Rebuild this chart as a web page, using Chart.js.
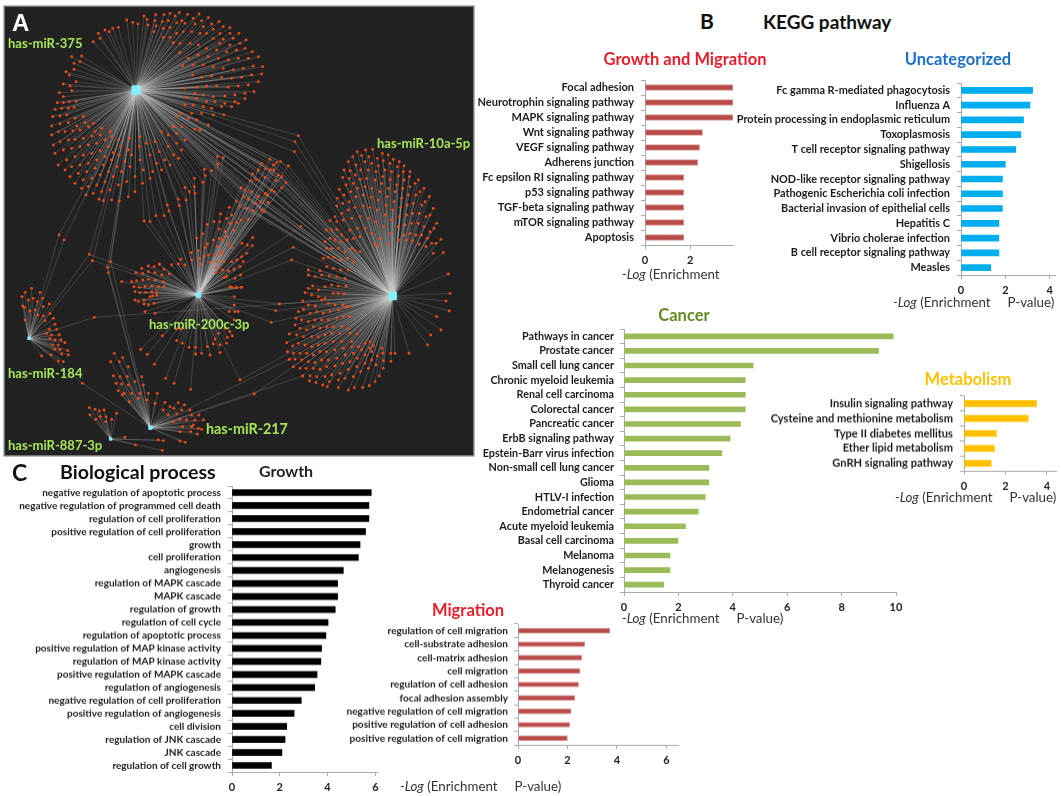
<!DOCTYPE html>
<html><head><meta charset="utf-8">
<script src="https://cdn.jsdelivr.net/npm/chart.js@4"></script>
<style>
html,body{margin:0;padding:0;background:#fff;width:1061px;height:796px;overflow:hidden}
canvas{position:absolute}
.t{position:absolute;white-space:pre;font-family:Lato,"Noto Sans",sans-serif;line-height:1;transform:translateY(-50%)}
.h{font-weight:700}
.c{transform:translate(-50%,-50%)}
.g{color:#a6e55a;font-weight:700;font-size:13px}
.x{font-size:13.3px;color:#333}
.x i{font-style:italic}
</style></head><body>
<script>
/* ---------- bar data ---------- */
const growthMigLabels=["Focal adhesion","Neurotrophin signaling pathway","MAPK signaling pathway","Wnt signaling pathway","VEGF signaling pathway","Adherens junction","Fc epsilon RI signaling pathway","p53 signaling pathway","TGF-beta signaling pathway","mTOR signaling pathway","Apoptosis"];
const growthMigValues=[3.9,3.9,3.9,2.55,2.42,2.34,1.72,1.72,1.72,1.72,1.72];
const uncatLabels=["Fc gamma R-mediated phagocytosis","Influenza A","Protein processing in endoplasmic reticulum","Toxoplasmosis","T cell receptor signaling pathway","Shigellosis","NOD-like receptor signaling pathway","Pathogenic Escherichia coli infection","Bacterial invasion of epithelial cells","Hepatitis C","Vibrio cholerae infection","B cell receptor signaling pathway","Measles"];
const uncatValues=[3.23,3.11,2.82,2.7,2.47,2.0,1.87,1.87,1.87,1.71,1.71,1.71,1.34];
const cancerLabels=["Pathways in cancer","Prostate cancer","Small cell lung cancer","Chronic myeloid leukemia","Renal cell carcinoma","Colorectal cancer","Pancreatic cancer","ErbB signaling pathway","Epstein-Barr virus infection","Non-small cell lung cancer","Glioma","HTLV-I infection","Endometrial cancer","Acute myeloid leukemia","Basal cell carcinoma","Melanoma","Melanogenesis","Thyroid cancer"];
const cancerValues=[9.9,9.36,4.75,4.46,4.46,4.46,4.28,3.9,3.6,3.12,3.12,2.99,2.73,2.26,1.98,1.69,1.69,1.46];
const metabLabels=["Insulin signaling pathway","Cysteine and methionine metabolism","Type II diabetes mellitus","Ether lipid metabolism","GnRH signaling pathway"];
const metabValues=[3.5,3.1,1.56,1.47,1.31];
const bioLabels=["negative regulation of apoptotic process","negative regulation of programmed cell death","regulation of cell proliferation","positive regulation of cell proliferation","growth","cell proliferation","angiogenesis","regulation of MAPK cascade","MAPK cascade","regulation of growth","regulation of cell cycle","regulation of apoptotic process","positive regulation of MAP kinase activity","regulation of MAP kinase activity","positive regulation of MAPK cascade","regulation of angiogenesis","negative regulation of cell proliferation","positive regulation of angiogenesis","cell division","regulation of JNK cascade","JNK cascade","regulation of cell growth"];
const bioValues=[5.83,5.73,5.73,5.59,5.36,5.29,4.66,4.42,4.42,4.32,4.02,3.93,3.75,3.72,3.56,3.46,2.9,2.6,2.29,2.22,2.09,1.65];
const migLabels=["regulation of cell migration","cell-substrate adhesion","cell-matrix adhesion","cell migration","regulation of cell adhesion","focal adhesion assembly","negative regulation of cell migration","positive regulation of cell adhesion","positive regulation of cell migration"];
const migValues=[3.72,2.7,2.58,2.51,2.45,2.3,2.15,2.09,2.0];

/* ---------- network data (flat x,y lists, in thirds of a pixel) ---------- */
const hubs={h375:[408,270],h10a:[1178,888],h200c:[595,885],h184:[87,1015],h217:[451,1283],h887:[332,1317]};
const leaves375=[380,60,398,67,414,72,432,48,441,58,444,75,467,44,465,62,468,78,492,44,487,65,490,85,510,40,505,62,510,82,525,48,538,38,530,68,545,62,563,43,555,70,580,55,597,42,585,72,605,62,625,53,610,80,635,72,657,65,640,88,670,80,690,83,660,100,690,100,717,100,700,115,670,118,738,120,720,130,690,135,660,130,640,115,620,100,600,100,575,95,550,95,530,100,510,112,490,112,462,95,
757,155,735,145,710,150,680,155,650,150,620,145,595,135,570,130,540,130,520,128,775,170,745,175,715,175,685,180,655,175,625,170,595,165,565,175,540,158,788,200,760,198,730,205,700,210,670,205,640,200,610,195,580,195,548,197,785,222,755,225,725,232,695,235,665,232,635,228,605,232,578,225,775,245,745,255,715,258,685,262,650,258,620,258,590,262,555,265,762,275,735,280,705,285,675,288,640,290,610,285,585,280,735,296,705,305,675,310,645,305,620,305,590,295,560,292,715,310,695,320,665,320,635,325,610,320,580,315,555,315,672,345,640,345,605,340,575,340,545,340,625,375,590,360,565,355,530,350,600,390,585,388,545,380,520,380,
355,82,338,85,315,90,328,95,295,100,300,115,280,125,245,168,215,170,240,185,222,190,222,208,198,215,208,225,228,245,190,252,210,258,178,278,190,290,215,272,172,308,190,308,208,305,228,305,165,328,185,325,205,325,222,322,158,350,180,348,200,345,225,355,250,350,155,378,180,372,205,368,230,378,255,368,280,370,
155,405,175,395,195,395,218,392,240,390,265,380,285,395,305,385,160,435,180,425,205,420,225,418,250,415,275,408,300,405,330,395,165,460,190,450,215,445,240,440,265,435,290,430,315,420,335,410,175,495,200,480,225,470,250,465,275,460,300,452,325,440,355,420,195,510,215,500,240,495,265,490,290,480,315,470,340,458,362,440,388,415,210,530,235,520,260,515,285,505,310,495,335,480,358,465,385,450,225,550,250,540,275,535,300,525,325,515,350,500,375,485,395,465,418,440,245,565,265,560,290,555,315,545,340,530,365,515,390,500,420,480,258,585,280,580,305,575,330,570,355,555,380,545,405,530,430,510,297,598,310,602,335,600,358,603,385,590,405,575,428,550,450,535,
420,410,440,430,465,425,485,395,505,405,530,400,450,465,478,455,505,440,530,430,555,420,470,490,495,480,520,465,545,450,458,515,485,510,510,495,535,475];
const leaves10a=[262,95,287,90,308,88,337,100,355,105,370,118,388,125,402,138,420,155,445,180,462,205,478,230,490,265,500,310,513,358,520,398,235,125,248,110,275,107,297,110,322,115,340,122,360,130,382,140,400,155,418,170,435,190,450,215,465,245,480,285,492,325,498,370,490,400,222,150,240,152,258,135,285,125,305,130,325,137,345,150,365,155,385,168,402,180,420,200,438,225,455,255,468,290,480,335,485,370,218,172,238,175,256,165,272,150,295,150,318,155,338,170,360,178,380,195,398,205,415,225,430,250,448,280,462,320,472,355,468,380,208,208,228,195,250,190,270,178,290,175,315,180,335,190,355,205,375,215,395,235,412,255,428,280,445,310,455,345,448,372,202,235,222,225,242,215,262,205,285,200,305,205,330,215,352,230,372,245,392,262,410,285,425,310,438,345,428,362,200,258,218,250,238,245,258,230,280,225,303,232,325,240,348,255,368,270,388,290,405,315,420,340,195,290,215,280,235,270,255,262,280,258,300,262,322,270,345,285,365,300,385,320,402,345,408,360,180,302,200,305,220,300,245,295,270,290,295,295,318,305,342,320,362,340,385,360,
168,330,185,330,200,328,215,345,240,330,262,325,285,325,305,340,330,355,355,372,315,372,325,378,165,365,180,355,195,360,212,365,232,360,250,355,270,350,255,392,270,395,170,385,185,385,205,385,225,395,245,385,160,415,175,412,192,412,212,420,232,415,250,425,115,450,150,452,170,440,190,445,212,450,235,450,115,465,135,470,155,465,178,468,200,470,225,475,128,498,115,505,145,510,165,500,185,495,205,498,228,498,105,518,125,525,145,530,165,535,190,520,205,520,222,522,98,543,115,555,135,558,155,540,175,550,195,555,218,555,235,560,85,575,100,568,120,580,140,575,160,580,180,575,205,570,228,562,78,595,95,600,115,605,135,600,155,600,175,600,200,595,220,590,238,590,75,615,90,625,110,630,130,620,150,625,170,620,190,620,215,620,235,625,58,642,80,645,100,650,125,650,145,650,165,645,185,640,210,640,240,640,262,642,50,668,68,678,85,670,105,675,125,680,145,675,165,670,190,665,215,665,245,665,52,695,70,700,90,700,110,700,130,705,150,695,170,695,195,690,220,685,245,680,265,680,285,670,300,665,58,718,75,718,95,720,115,725,135,728,155,720,175,720,200,715,225,705,250,700,275,690,300,685,310,678,70,740,90,745,108,745,130,745,150,748,170,740,195,738,218,730,240,725,262,715,285,705,305,695,335,685,98,768,120,768,140,770,165,770,185,765,210,760,235,748,260,740,285,730,305,720,322,708,338,700,362,700,375,700,417,700,118,783,138,788,158,795,178,785,205,780,225,775,250,770,272,755,295,745,318,735,340,722,363,724,172,800,205,803,235,810,253,803,278,803,298,797,315,785,328,768,340,745,
535,462,540,520,528,543,538,573,500,590,513,630,482,645,473,675];
const bridge375_10a=[85,47,75,65,73,95];
const bridge10a_200c=[92,320,70,382,65,420,28,552,17,572,4,607];
const bridge10a_217=[58,718,98,768];
const fanTop=[395,70,420,58,408,85,405,112,385,90,368,102,362,122,380,118,430,75,440,68,452,65,475,78,420,90,432,90,445,105,455,110,468,128,437,122,433,155,455,143,425,150,405,160,412,165,415,187,392,185,378,190,385,170,365,155,355,178,345,150,333,143,340,170,320,183,330,198,350,205,368,212,395,210,402,215];
const fanLow=[298,202,355,238,333,240,320,248,305,225,290,235,272,222,270,245,252,245,232,253,268,267,300,250,310,270,285,275,218,282,200,295,250,300,232,312,225,322,290,290,295,310,268,295,278,300,262,320,272,335,305,322,336,310,352,315,368,293,367,317,350,340,335,350,320,360,305,365,282,365,260,365,240,368,222,348,205,332,183,338,185,360,210,355,212,372,235,345,255,345,278,342,340,365,330,380,312,387,295,393,278,390,258,382,258,397,332,405,315,415,290,410,282,413,335,442,320,443,300,440,165,375,145,372,125,375,152,358,88,372];
const bridge375_200c=[262,50,280,53,265,73,223,88,226,107,245,92,193,115,218,127,165,143,193,140,178,155,195,160,145,178,168,180,112,195,148,197,117,213,78,227,102,227,42,243,60,245];
const leaves200c=[425,115,445,108,462,110,478,103,492,118,508,132,408,128,428,130,445,125,465,128,485,135,365,155,395,155,410,152,428,150,445,148,465,150,490,155,402,170,418,172,435,170,455,168,475,170,492,170,405,185,420,188,437,187,455,185,470,185,405,210,415,215,432,210,450,200,458,198,470,195,432,222,445,225,462,220,435,245,465,250,487,317,530,297,543,297,547,340,530,332,567,352,587,352,587,372,605,370,622,350,630,375,640,342,645,327,660,368,660,345,655,310,680,340,682,322,690,305,697,318,675,295,703,270,688,245,705,245,715,245,703,225,703,200,695,172,708,172,723,172,422,358,442,373,463,403,497,445,522,460,572,478];
const bridge200c_10a_low=[720,450];
const bridge217_10a_low=[763,492];
const bridge184_375=[177,15,192,30];
const bridge184_200c_375=[268,73,277,92];
const bridge217_375=[322,112,332,95,325,128];
const bridge184_10a=[283,262];
const bridge184_217=[247,460];
const leaves184=[66,200,75,187,95,175,85,210,100,205,120,187,128,205,112,215,68,228,73,232,90,243,105,240,130,230,148,222,113,255,130,258,150,250,75,270,135,272,160,265,165,283,148,298,170,298,140,310,155,315,178,315,150,325,165,330,183,330,158,345,175,345,195,338,165,358,180,358,203,362,185,372,205,375,125,378,153,375,175,393,190,395];
const leaves217=[343,370,368,383,332,395,358,395,385,410,340,437,360,440,382,440,425,440,348,460,365,462,385,465,405,455,430,465,355,482,372,490,395,490,420,490,445,490,472,490,367,495,388,515,415,505,440,510,465,520,495,517,535,518,553,525,510,530,522,535,545,540,570,540,490,540,505,555,530,552,575,555,597,555,540,568,560,570,585,570,610,570,520,575,548,590,575,590,595,595,605,598,580,585,540,605,572,605,592,612,540,633,556,637];
const leaves887=[268,533,285,538,298,543,312,540,270,555,287,568,300,560,318,560,317,575,335,568,350,550,375,622,475,630,490,632,407,645,487,661];

/* crop origins the lists above were read in (thirds of a pixel) */
const cropB={dx:810,dy:360}, cropC={dx:0,dy:690}, cropD={dx:390,dy:420}, cropA={dx:0,dy:0};
const {h375,h10a,h200c,h184,h217,h887}=hubs;
const groups=[
 [leaves375,cropA,[h375]],[leaves10a,cropB,[h10a]],[bridge375_10a,cropB,[h375,h10a]],
 [bridge10a_200c,cropB,[h10a,h200c]],[bridge10a_217,cropB,[h217]],
 [fanTop,cropD,[h200c,h375,h10a]],[fanLow,cropD,[h200c]],[bridge375_200c,cropD,[h375,h200c]],
 [leaves200c,cropC,[h200c]],[bridge200c_10a_low,cropC,[h200c,h10a]],[bridge217_10a_low,cropC,[h217,h10a]],
 [bridge184_375,cropC,[h184,h375]],[bridge184_200c_375,cropC,[h184,h200c,h375]],[bridge217_375,cropC,[h217,h375]],
 [bridge184_10a,cropC,[h184,h10a]],[bridge184_217,cropC,[h184,h217]],
 [leaves184,cropC,[h184]],[leaves217,cropC,[h217]],[leaves887,cropC,[h887]]
];
const nodePoints=[],edgePoints=[];
groups.forEach(([list,o,hs])=>{
  for(let i=0;i<list.length;i+=2){
    const p={x:list[i]+o.dx,y:list[i+1]+o.dy};
    nodePoints.push(p);
    hs.forEach(h=>edgePoints.push(p,{x:h[0],y:h[1]},{x:NaN,y:NaN}));
  }
});
const hubList=Object.values(hubs);
const hubSizes=[6.5,6,3.8,2.4,3,2.4];

function addCanvas(l,t,w,h){const c=document.createElement('canvas');c.width=w;c.height=h;c.style.left=l+'px';c.style.top=t+'px';c.style.width=w+'px';c.style.height=h+'px';document.body.appendChild(c);return c;}
function addText(html,cls,style){const d=document.createElement('div');d.className='t '+cls;d.innerHTML=html;Object.assign(d.style,style);document.body.appendChild(d);}

/* network panel */
const pc=addCanvas(5,7,468,448);
pc.style.background='#222';pc.style.boxShadow='0 0 0 1.5px #777';
new Chart(pc,{type:'scatter',data:{datasets:[
 {data:hubList.map(h=>({x:h[0],y:h[1]})),pointStyle:'rect',pointRadius:hubSizes,backgroundColor:'#86f2ff',borderWidth:0,order:0},
 {data:nodePoints,pointRadius:1.4,backgroundColor:'#ee4c1a',borderWidth:0,order:1},
 {data:edgePoints,showLine:true,pointRadius:0,borderColor:'rgba(205,205,205,0.25)',borderWidth:0.8,tension:0,segment:{borderWidth:()=>undefined},order:2}
]},options:{responsive:false,animation:false,events:[],layout:{padding:0,autoPadding:false},
 plugins:{legend:{display:false},tooltip:{enabled:false}},
 scales:{x:{display:false,min:15,max:1419},y:{display:false,min:21,max:1365,reverse:true}}}});

/* bar panels */
const FONT='Lato,"Noto Sans",sans-serif';
function barPanel(labels,values,o){
  const pad=14,labelW=240,bottomH=28;
  const c=addCanvas(o.axisX-labelW,o.top-pad,labelW+o.plotW+pad,o.bottom-o.top+pad+bottomH);
  new Chart(c,{type:'bar',data:{labels,datasets:[{data:values,backgroundColor:o.color,borderColor:o.edge||o.color,borderWidth:o.edge?1:0,barThickness:o.bar||6}]},
  options:{indexAxis:'y',responsive:false,animation:false,events:[],layout:{padding:{top:pad,right:pad,left:0,bottom:0}},
   plugins:{legend:{display:false},tooltip:{enabled:false}},
   scales:{
    x:{min:0,max:o.xMax,border:{color:'#aaa'},afterFit:s=>{s.height=bottomH},
       grid:{drawOnChartArea:false,tickLength:4,color:'#aaa'},
       ticks:{stepSize:2,includeBounds:false,maxRotation:0,autoSkip:false,padding:5,color:'#222',font:{family:FONT,weight:'bold',size:11}}},
    y:{border:{color:'#aaa'},afterFit:s=>{s.width=labelW},
       grid:{drawOnChartArea:false,tickLength:4,color:'#aaa'},
       ticks:{autoSkip:false,padding:o.tpad,color:'#1c1c1c',font:{family:FONT,weight:'bold',size:o.fs}}}
   }}});
}
barPanel(growthMigLabels,growthMigValues,{axisX:645,plotW:88,top:79.5,bottom:245,xMax:3.9,color:'#b84a48',edge:'#d79a98',tpad:7,fs:11});
barPanel(uncatLabels,uncatValues,{axisX:961,plotW:94,top:82.5,bottom:275,xMax:4.24,color:'#00aeef',tpad:7,fs:10.9});
barPanel(cancerLabels,cancerValues,{axisX:624,plotW:272,top:329,bottom:592,xMax:10,color:'#9bbb59',bar:5,tpad:6,fs:10.8});
barPanel(metabLabels,metabValues,{axisX:964,plotW:92,top:396,bottom:470.7,xMax:4.44,color:'#ffc000',tpad:7,fs:11.1});
barPanel(bioLabels,bioValues,{axisX:232,plotW:145,top:486,bottom:771.5,xMax:6.07,color:'#000',bar:6,tpad:7,fs:10});
barPanel(migLabels,migValues,{axisX:518,plotW:160,top:624,bottom:744.5,xMax:6.47,color:'#b84a48',edge:'#d79a98',bar:5,tpad:6,fs:10.1});

/* titles */
addText('A','h',{left:'12px',top:'23px',fontSize:'24px',color:'#fff',fontFamily:'Liberation Sans'});
addText('has-miR-375','g',{left:'8px',top:'43px'});
addText('has-miR-10a-5p','g',{left:'377px',top:'143px'});
addText('has-miR-200c-3p','g',{left:'149px',top:'324px'});
addText('has-miR-184','g',{left:'8px',top:'373px'});
addText('has-miR-217','g',{left:'206px',top:'429px',fontSize:'14.3px'});
addText('has-miR-887-3p','g',{left:'8px',top:'445px'});
addText('B','h',{left:'700px',top:'20px',fontSize:'21px',color:'#111'});
addText('KEGG pathway','h',{left:'763px',top:'21px',fontSize:'19px',color:'#111'});
addText('Growth and Migration','h c',{left:'685px',top:'59px',fontSize:'16.5px',color:'#e4202c'});
addText('Uncategorized','h c',{left:'958px',top:'59px',fontSize:'16.5px',color:'#1f6fc6'});
addText('Cancer','h c',{left:'684px',top:'315px',fontSize:'16.5px',color:'#5f8a1e'});
addText('Metabolism','h c',{left:'968px',top:'379px',fontSize:'16.5px',color:'#ffc000'});
addText('Migration','h c',{left:'468px',top:'610px',fontSize:'16.5px',color:'#e4202c'});
addText('C','h',{left:'12px',top:'472px',fontSize:'23px',color:'#111'});
addText('Biological process','h',{left:'60px',top:'472px',fontSize:'19.6px',color:'#111'});
addText('Growth','h',{left:'259px',top:'471px',fontSize:'16px',color:'#222'});
const xt='<i>-Log</i> (Enrichment     P-value)';
addText('<i>-Log</i> (Enrichment','x',{left:'622px',top:'275px'});
addText(xt,'x',{left:'893px',top:'303px'});
addText(xt,'x',{left:'622px',top:'619px'});
addText(xt,'x',{left:'895px',top:'498px'});
addText(xt,'x',{left:'400px',top:'787px'});
</script>
</body></html>
